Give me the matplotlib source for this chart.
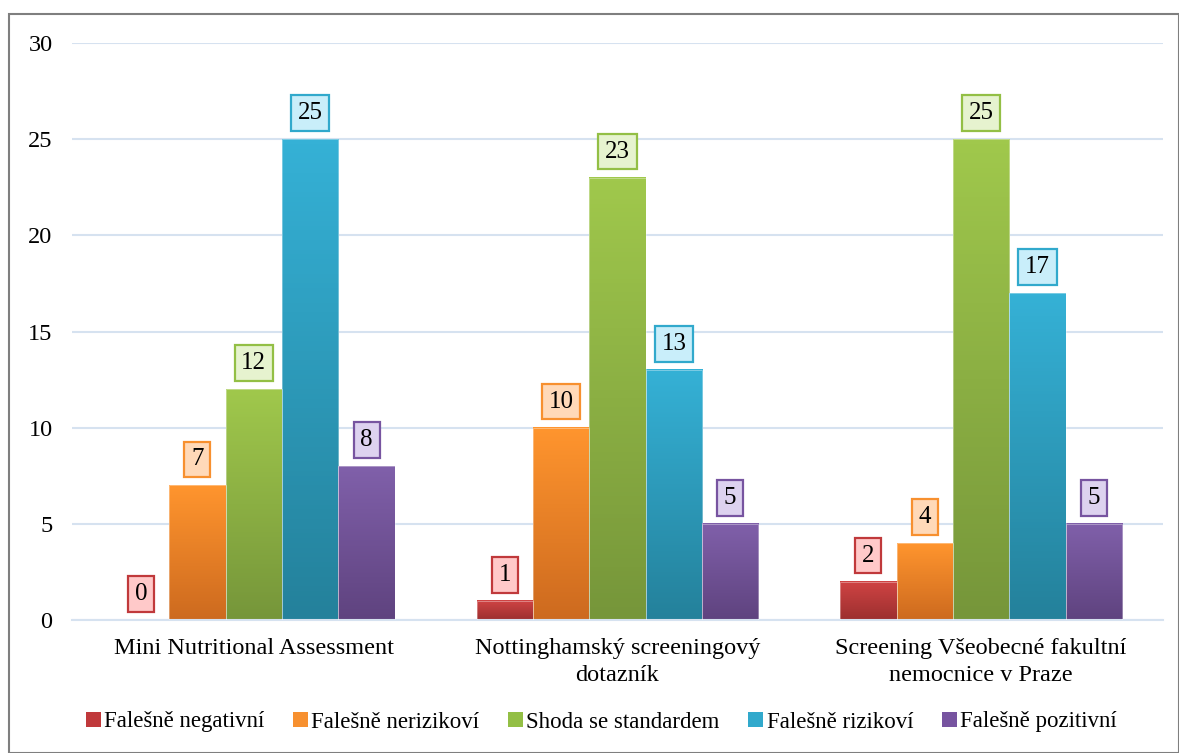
import numpy as np
import matplotlib
matplotlib.use("Agg")
import matplotlib.pyplot as plt
from matplotlib.colors import LinearSegmentedColormap
from matplotlib.patches import Patch, Rectangle

plt.rcParams['font.family'] = ['Liberation Serif', 'DejaVu Serif']

categories = ["Mini Nutritional Assessment",
              "Nottinghamský screeningový\ndotazník",
              "Screening Všeobecné fakultní\nnemocnice v Praze"]
series = ["Falešně negativní", "Falešně nerizikoví", "Shoda se standardem",
          "Falešně rizikoví", "Falešně pozitivní"]
values = [
    [0, 1, 2],
    [7, 10, 4],
    [12, 23, 25],
    [25, 13, 17],
    [8, 5, 5],
]

# (top, bottom, label fill, legend swatch)
styles = [
    ("#d04444", "#9c2f2f", "#ffc9c9", "#c0393b"),
    ("#ff952e", "#cd6a1f", "#ffd9b8", "#f7902f"),
    ("#a0c84c", "#76963a", "#e6f3cf", "#93bf45"),
    ("#35b1d6", "#24819b", "#c9eefa", "#31a9cc"),
    ("#8060aa", "#5f437f", "#ddd2ef", "#7754a0"),
]

fig = plt.figure(figsize=(11.79, 7.53), dpi=100)
ax = fig.add_axes([72 / 1179, 133 / 753, 1091 / 1179, 577 / 753])

n = len(series)
width = 0.155
x = np.arange(len(categories))

for i, name in enumerate(series):
    top, bottom, fill, swatch = styles[i]
    cmap = LinearSegmentedColormap.from_list(name, [bottom, top])
    offs = x + (i - (n - 1) / 2) * width
    bars = ax.bar(offs, values[i], width, color="none", zorder=2)
    for rect, v in zip(bars, values[i]):
        x0 = rect.get_x()
        if v > 0:
            grad = np.linspace(1, 0, 100).reshape(-1, 1)
            ax.imshow(grad, extent=[x0, x0 + width, 0, v], aspect="auto",
                      cmap=cmap, vmin=0, vmax=1, zorder=2, origin="upper")
            ax.add_patch(Rectangle((x0, 0), width, v, fill=False,
                                   edgecolor="white", lw=0.7, alpha=0.35, zorder=3))
        ax.annotate(str(v), (x0 + width / 2, v), xytext=(0, 20.5),
                    textcoords="offset points", ha="center", va="center_baseline",
                    fontsize=18, zorder=5,
                    bbox=dict(boxstyle="square,pad=0.27", fc=fill,
                              ec=swatch, lw=1.6))

ax.set_xlim(-0.5, 2.5)
ax.set_ylim(0, 30)
ax.set_yticks(range(0, 31, 5))
ax.set_xticks(x)
ax.set_xticklabels(categories, fontsize=17.5, linespacing=1.4)
ax.tick_params(axis="both", length=0, labelsize=17.5)
ax.tick_params(axis="y", pad=14)
ax.tick_params(axis="x", pad=13)
ax.grid(axis="y", color="#d6e2f0", lw=1.5, zorder=0)
ax.set_axisbelow(True)
for side in ["top", "right", "left"]:
    ax.spines[side].set_visible(False)
ax.spines["bottom"].set_color("#d6e2f0")
ax.spines["bottom"].set_linewidth(1.5)

handles = [Patch(facecolor=s[3], edgecolor="none") for s in styles]
fig.legend(handles, series, loc="center", bbox_to_anchor=(0.51, 1 - 722 / 753),
           ncol=5, frameon=False, fontsize=16.5, handlelength=0.65,
           handleheight=0.65, handletextpad=0.15, columnspacing=1.25)

fig.add_artist(Rectangle((9 / 1179, 0), 1 - 9 / 1179, 1 - 14 / 753,
                         transform=fig.transFigure, fill=False,
                         edgecolor="#7f7f7f", lw=1.5))

fig.savefig("out.png", dpi=100)
